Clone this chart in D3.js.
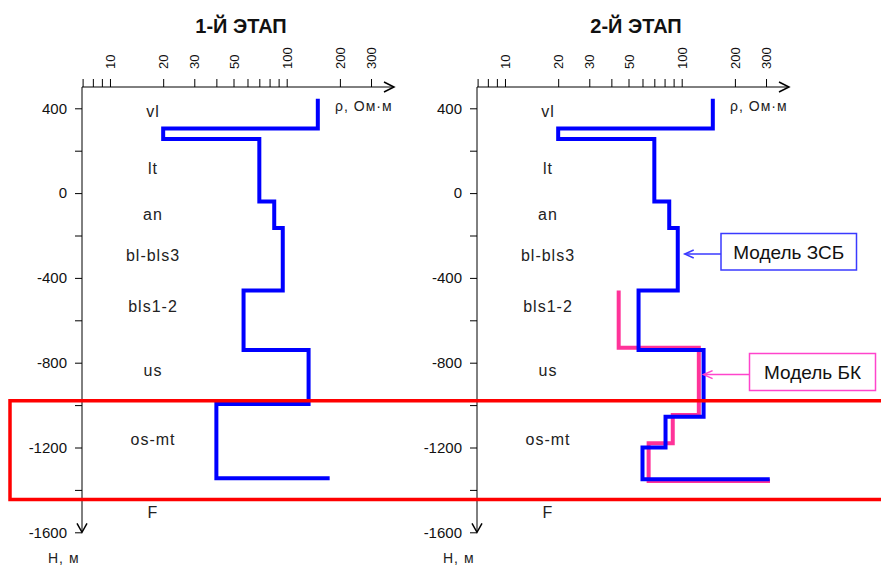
<!DOCTYPE html>
<html><head><meta charset="utf-8">
<script src="https://cdn.jsdelivr.net/npm/d3@7"></script>
<style>body{margin:0;background:#fff} svg{display:block}</style>
</head><body>
<script>
// ---------- data ----------
const stageTitles = ["1-Й ЭТАП", "2-Й ЭТАП"];
const layerNames = ["vl", "lt", "an", "bl-bls3", "bls1-2", "us", "os-mt", "F"];
const layerLabelDepths = [385, 115, -100, -295, -535, -835, -1160, -1505];
const depthTicks = [400, 200, 0, -200, -400, -600, -800, -1000, -1200, -1400, -1600];
const depthLabels = [400, 0, -400, -800, -1200, -1600];
const rhoTickLabels = [10, 20, 30, 50, 100, 200, 300];
const rhoMinorTicks = [7, 8, 9, 40, 60, 70, 80, 90];
// stage 1: ZSB model (layer top depths, resistivities)
const zsb1Depths = [445, 305, 255, -40, -165, -460, -740, -995, -1345];
const zsb1Rho    = [150, 20, 70, 85, 95, 57, 133, 40, 175];
// stage 2: ZSB model and BK model
const zsb2Depths = [445, 305, 255, -40, -165, -460, -740, -1055, -1200, -1350];
const zsb2Rho    = [150, 20, 70, 85, 95, 57, 133, 81, 60, 315];
const bk2Depths  = [-460, -730, -1047, -1180, -1358];
const bk2Rho     = [44, 125, 89, 65, 316];
const targetZone = [-980, -1445];
const legendNames = ["Модель ЗСБ", "Модель БК"];
const axisNames = ["ρ, Ом·м", "Н, м"];

// ---------- drawing ----------
const W = 881, H = 567;
const svg = d3.select("body").append("svg").attr("width", W).attr("height", H)
  .style("font-family", "'Liberation Sans', Arial, sans-serif");

const y = d3.scaleLinear().domain([400, -1600]).range([108.3, 532.3]);
const axisY = 87;
const panelX = [82, 477];
const blue = "#0000ff", pink = "#ff3399";

function profilePoints(depths, rho) {
  const pts = [];
  for (let i = 0; i < depths.length; i++) {
    pts.push([rho[i], depths[i]]);
    if (i + 1 < depths.length) pts.push([rho[i], depths[i + 1]]);
  }
  return pts;
}

const panelSeries = [
  [{d: zsb1Depths, r: zsb1Rho, c: blue}],
  [{d: bk2Depths, r: bk2Rho, c: pink}, {d: zsb2Depths, r: zsb2Rho, c: blue}]
];

const xScales = [];
panelX.forEach((x0, p) => {
  const x = d3.scaleLog().domain([7, 400]).range([x0 + 0.6, x0 + 311.1]);
  xScales.push(x);
  const g = svg.append("g");

  // title
  g.append("text").attr("x", x0 + 159).attr("y", 33).attr("text-anchor", "middle")
    .attr("font-size", 20).attr("font-weight", "bold").attr("fill", "#111")
    .text(stageTitles[p]);

  // top axis
  const allTicks = rhoMinorTicks.concat(rhoTickLabels).sort((a, b) => a - b);
  const ax = g.append("g").attr("transform", `translate(0,${axisY})`)
    .call(d3.axisTop(x).tickValues(allTicks).tickSize(8).tickSizeOuter(0)
      .tickFormat(d => rhoTickLabels.includes(d) ? d : ""));
  ax.select(".domain").remove();
  ax.selectAll(".tick line").attr("stroke", "#000");
  ax.selectAll(".tick text").attr("transform", "rotate(-90)")
    .attr("x", 18).attr("y", 0).attr("dy", "0.35em").attr("text-anchor", "start")
    .attr("font-size", 13).attr("fill", "#111").style("font-family", "'Liberation Sans', Arial, sans-serif");
  const tipX = x0 + 312;
  g.append("line").attr("x1", x0).attr("x2", tipX).attr("y1", axisY).attr("y2", axisY).attr("stroke", "#000");
  g.append("path").attr("d", `M${tipX - 10},${axisY - 5}L${tipX},${axisY}L${tipX - 10},${axisY + 5}`)
    .attr("fill", "none").attr("stroke", "#000").attr("stroke-width", 1.5);

  // left axis
  const ay = g.append("g").attr("transform", `translate(${x0},0)`)
    .call(d3.axisLeft(y).tickValues(depthTicks).tickSize(7).tickPadding(8).tickSizeOuter(0)
      .tickFormat(d => depthLabels.includes(d) ? String(d) : ""));
  ay.select(".domain").remove();
  ay.selectAll(".tick line").attr("stroke", "#000");
  ay.selectAll(".tick text").attr("font-size", 15).attr("fill", "#111")
    .style("font-family", "'Liberation Sans', Arial, sans-serif");
  const tipY = y(-1600);
  g.append("line").attr("x1", x0).attr("x2", x0).attr("y1", axisY).attr("y2", tipY).attr("stroke", "#000");
  g.append("path").attr("d", `M${x0 - 5},${tipY - 9}L${x0},${tipY}L${x0 + 5},${tipY - 9}`)
    .attr("fill", "none").attr("stroke", "#000").attr("stroke-width", 1.5);

  // axis names
  g.append("text").attr("x", x0 + 253).attr("y", 111).attr("font-size", 14)
    .attr("letter-spacing", 1).attr("fill", "#222").text(axisNames[0]);
  g.append("text").attr("x", x0 - 34).attr("y", 563).attr("font-size", 14)
    .attr("letter-spacing", 1).attr("fill", "#222").text(axisNames[1]);

  // layer labels
  g.selectAll("text.layer").data(layerNames).enter().append("text").attr("class", "layer")
    .attr("x", x0 + 71).attr("y", (d, i) => y(layerLabelDepths[i]))
    .attr("dy", "0.35em").attr("text-anchor", "middle").attr("font-size", 16)
    .attr("letter-spacing", 1).attr("fill", "#222").text(d => d);

  // profiles
  const line = d3.line().x(d => x(d[0])).y(d => y(d[1]));
  panelSeries[p].forEach(s => {
    g.append("path").attr("d", line(profilePoints(s.d, s.r)))
      .attr("fill", "none").attr("stroke", s.c).attr("stroke-width", 4)
      .attr("stroke-linejoin", "miter");
  });
});

// target zone (red frame, open on the right)
svg.append("path")
  .attr("d", `M${W},${y(targetZone[0])}H10V${y(targetZone[1])}H${W}`)
  .attr("fill", "none").attr("stroke", "#ff0000").attr("stroke-width", 3.5);

// legends with arrows
const x2 = xScales[1];
const legends = [
  {name: legendNames[0], col: "#3a3aff", tip: [x2(104), y(-287)], box: [721, 233.5, 135.5, 36.5]},
  {name: legendNames[1], col: "#ff44cc", tip: [x2(133), y(-856)], box: [749.5, 353.5, 126, 37]}
];
legends.forEach(l => {
  const [bx, by, bw, bh] = l.box;
  svg.append("rect").attr("x", bx).attr("y", by).attr("width", bw).attr("height", bh)
    .attr("fill", "#fff").attr("stroke", l.col).attr("stroke-width", 1.5);
  svg.append("text").attr("x", bx + bw / 2).attr("y", by + bh / 2).attr("dy", "0.36em")
    .attr("text-anchor", "middle").attr("font-size", 19).attr("fill", "#111").text(l.name);
  const [tx, ty] = l.tip;
  svg.append("line").attr("x1", bx).attr("x2", tx).attr("y1", ty).attr("y2", ty)
    .attr("stroke", l.col).attr("stroke-width", 1.5);
  svg.append("path").attr("d", `M${tx + 9},${ty - 4}L${tx},${ty}L${tx + 9},${ty + 4}`)
    .attr("fill", "none").attr("stroke", l.col).attr("stroke-width", 1.5);
});
</script>
</body></html>
